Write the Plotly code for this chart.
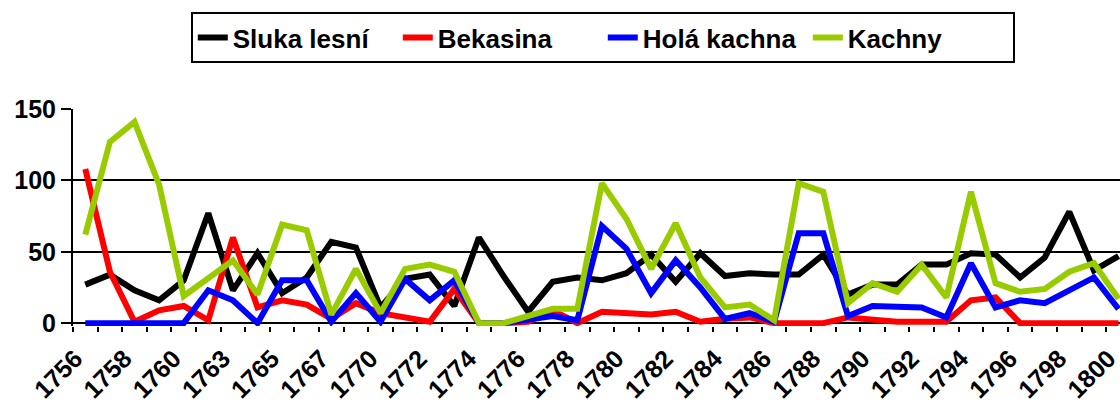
import plotly.graph_objects as go

years = ["1756", "1757", "1758", "1759", "1760", "1761", "1763", "1764", "1765", "1766",
         "1767", "1768", "1770", "1771", "1772", "1773", "1774", "1775", "1776", "1777",
         "1778", "1779", "1780", "1781", "1782", "1783", "1784", "1785", "1786", "1787",
         "1788", "1789", "1790", "1791", "1792", "1793", "1794", "1795", "1796", "1797",
         "1798", "1799", "1800"]

sluka = [27, 34, 23, 16, 30, 77, 23, 49, 21, 32, 57, 53, 11, 31, 34, 12, 60, 33, 8, 29,
         32, 30, 35, 48, 29, 49, 33, 35, 34, 34, 48, 20, 27, 27, 41, 41, 49, 48, 32, 46,
         78, 37, 47]
bekasina = [108, 36, 1, 9, 12, 2, 60, 11, 16, 13, 3, 14, 7, 4, 1, 24, 0, 0, 1, 9,
            0, 8, 7, 6, 8, 1, 3, 4, 0, 0, 0, 4, 2, 1, 1, 1, 16, 18, 0, 0,
            0, 0, 0]
hola = [0, 0, 0, 0, 0, 23, 16, 0, 30, 30, 1, 21, 1, 31, 16, 30, 0, 0, 3, 5,
        2, 68, 52, 21, 44, 25, 3, 7, 1, 63, 63, 5, 12, 11, 11, 4, 42, 11, 16, 14,
        23, 32, 10]
kachny = [62, 127, 141, 97, 19, 32, 44, 20, 69, 65, 6, 38, 7, 38, 41, 36, 0, 0, 5, 10,
          10, 98, 73, 38, 70, 32, 11, 13, 2, 98, 92, 14, 28, 22, 41, 18, 92, 28, 22, 24,
          36, 42, 17]

series = [("Sluka lesní", sluka, "#000000"),
          ("Bekasina", bekasina, "#FF0000"),
          ("Holá kachna", hola, "#0000FF"),
          ("Kachny", kachny, "#99CC00")]

# only every other year gets a label, like the original
labels = [y if i % 2 == 0 else "" for i, y in enumerate(years)]

fnt = dict(family="Arial, Liberation Sans", size=25, color="black", weight="bold")

fig = go.Figure()
for name, vals, col in series:
    fig.add_trace(go.Scatter(x=years, y=vals, name=name, mode="lines",
                             line=dict(color=col, width=6)))

fig.update_layout(
    width=1120, height=407,
    margin=dict(l=73, r=0, t=109, b=81),
    paper_bgcolor="white", plot_bgcolor="white",
    font=fnt,
    showlegend=True,
    legend=dict(orientation="h", x=0.506, xanchor="center", y=1.447, yanchor="top",
                entrywidth=160, entrywidthmode="pixels",
                bordercolor="black", borderwidth=2, bgcolor="white",
                font=dict(fnt, size=26)),
)
fig.update_xaxes(type="category", tickmode="array", tickvals=years, ticktext=labels,
                 tickson="boundaries", ticks="outside", ticklen=5, tickwidth=2,
                 tickcolor="black", tickangle=-45, showgrid=False, automargin=False,
                 showline=False, range=[-0.5, 42.06], tickfont=fnt,
                 ticklabelstandoff=12, ticklabelshift=-10)
fig.update_yaxes(range=[-2, 150], tickvals=[0, 50, 100, 150], showgrid=True,
                 gridcolor="black", gridwidth=2, zeroline=True, zerolinecolor="black",
                 zerolinewidth=2, showline=True, linecolor="black", linewidth=2,
                 ticks="outside", ticklen=10, tickwidth=2, tickcolor="black",
                 automargin=False, ticklabelstandoff=0, tickfont=fnt)

# drop the default 8px body margin so the figure fills the window exactly
fig.write_html("out.html", config={"displayModeBar": False},
               post_script="document.body.style.margin='0';")
